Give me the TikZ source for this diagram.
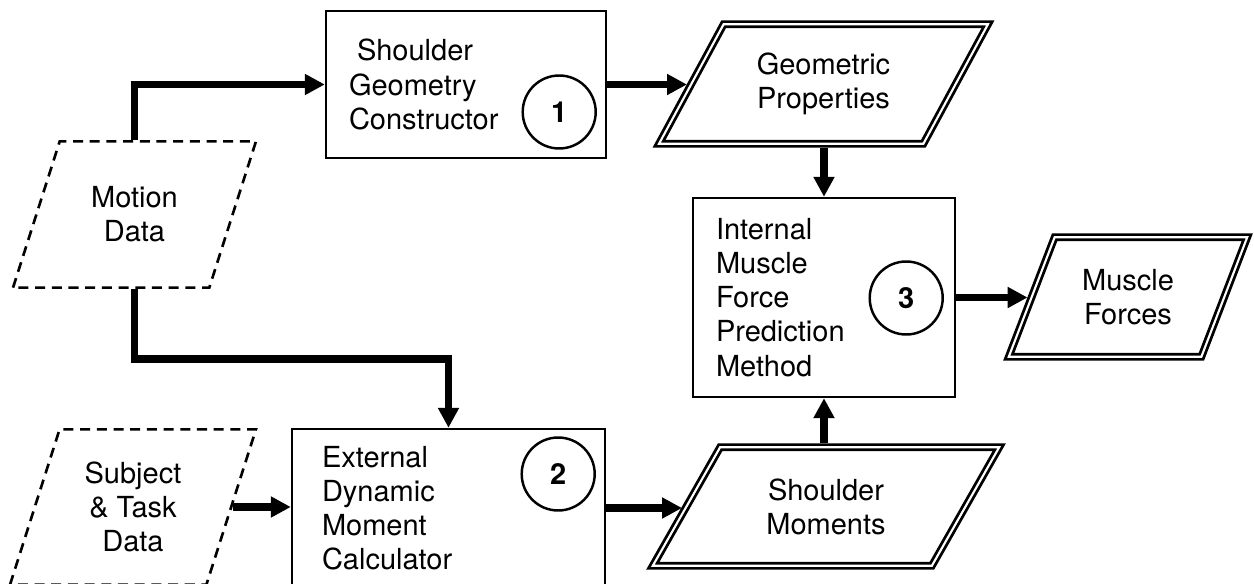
\documentclass[tikz,border=0pt]{standalone}
\usepackage{fontspec}
\setmainfont{TeX Gyre Heros}
\usetikzlibrary{arrows.meta,positioning,shapes.geometric}

% fixed-height text box, so the slant of a data node follows its angle
\newcommand{\datatext}[2]{\parbox[c][#1][c]{2.8cm}{\centering #2}}

\begin{document}
\begin{tikzpicture}[
    x=0.02cm, y=-0.02cm,
    font=\fontsize{16.5}{19.4}\selectfont,
    block/.style={draw, line width=1.4pt, align=left, inner ysep=0pt},
    datain/.style={trapezium, draw, dash pattern=on 5.7pt off 3.8pt, line width=1.5pt, trapezium stretches body=true, trapezium left angle=72.3, trapezium right angle=107.7, inner sep=0pt},
    dataout/.style={trapezium, draw, line width=1.6pt, double, double distance=1.2pt, outer sep=2.2pt, trapezium stretches body=true, inner sep=0pt},
    num/.style={circle, draw, line width=1.4pt, minimum size=1.46cm, inner sep=0pt, font=\fontsize{16.5}{19.4}\selectfont\bfseries},
    arr/.style={-{Triangle[length=11.3pt, width=11.3pt]}, line width=4pt}
  ]
  \useasboundingbox (0,0) rectangle (1254,584);
  \clip (0,0) rectangle (1254,584);

  % inputs
  \node[datain, minimum width=4.86cm] (motion) at (134.5,214.5) {\datatext{83.3pt}{Motion\\Data}};
  \node[datain, minimum width=4.92cm] (subject) at (133,507) {\datatext{88.4pt}{Subject\\\& Task\\Data}};

  % processing blocks
  \node[block, minimum width=5.6cm, minimum height=2.94cm, inner xsep=0.46cm, text width=4.68cm] (sgc) at (466,84.5) {\hspace*{0.16cm}Shoulder\\Geometry\\Constructor};
  \node[block, minimum width=5.24cm, minimum height=3.98cm, inner xsep=0.46cm, text width=4.32cm] (ifp) at (824,297.5) {Internal\\Muscle\\Force\\Prediction\\Method};
  \node[block, minimum width=6.26cm, minimum height=3.16cm, inner xsep=0.6cm, text width=5.06cm] (edm) at (448.5,508) {External\\Dynamic\\Moment\\Calculator};
  \node[num] (n1) at ([shift={(-48,27.5)}]sgc.east) {1};
  \node[num] (n3) at ([shift={(-50,0.5)}]ifp.east) {3};
  \node[num] (n2) at ([shift={(-48,-34)}]edm.east) {2};

  % outputs
  \node[dataout, trapezium left angle=61.6, trapezium right angle=118.4, minimum width=6.58cm] (geo) at (823.5,84) {\datatext{68pt}{Geometric\\Properties}};
  \node[dataout, trapezium left angle=60.4, trapezium right angle=119.6, minimum width=6.93cm] (moments) at (826,506.5) {\datatext{67.5pt}{Shoulder\\Moments}};
  \node[dataout, trapezium left angle=69, trapezium right angle=111, minimum width=4.77cm] (forces) at (1128,297) {\datatext{68pt}{Muscle\\Forces}};

  % flow
  \draw[arr] (motion |- motion.north) |- (sgc.west);
  \draw[arr] (motion |- motion.south) -- ++(0,70) -| (edm.north);
  \draw[arr] (subject.east) -- (subject.east -| edm.west);
  \draw[arr] (sgc.east) -- (sgc.east -| geo.west);
  \draw[arr] (edm.east) -- (edm.east -| moments.west);
  \draw[arr] (ifp.north |- geo.south) -- (ifp.north);
  \draw[arr] (ifp.south |- moments.north) -- (ifp.south);
  \draw[arr] (ifp.east) -- (ifp.east -| forces.west);
\end{tikzpicture}
\end{document}
